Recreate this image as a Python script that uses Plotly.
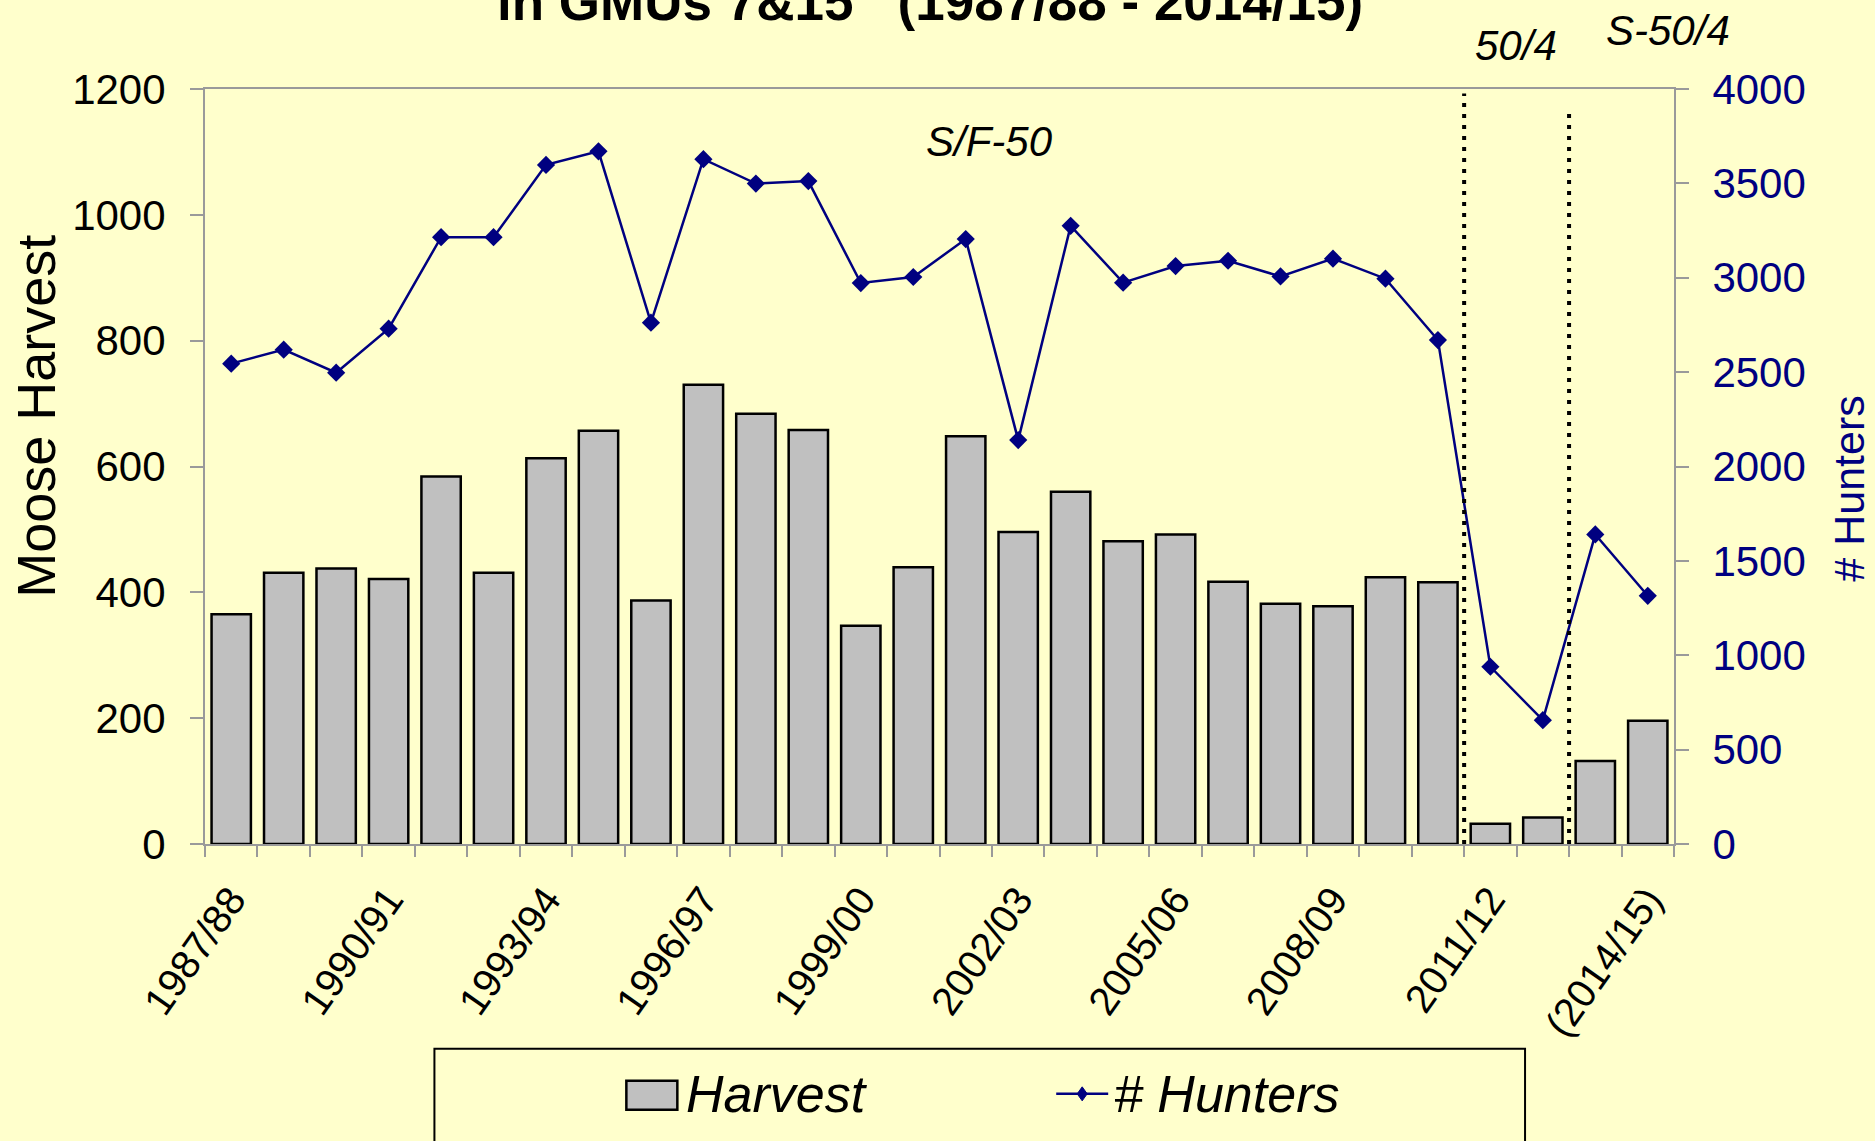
import plotly.graph_objects as go

# ---------------- data ----------------
seasons = ["1987/88", "1988/89", "1989/90", "1990/91", "1991/92", "1992/93", "1993/94",
           "1994/95", "1995/96", "1996/97", "1997/98", "1998/99", "1999/00", "2000/01",
           "2001/02", "2002/03", "2003/04", "2004/05", "2005/06", "2006/07", "2007/08",
           "2008/09", "2009/10", "2010/11", "2011/12", "2012/13", "2013/14", "2014/15"]
harvest = [365, 431, 438, 421, 584, 431, 613, 657, 387, 730, 684, 658, 347, 440,
           648, 496, 560, 481, 492, 417, 382, 378, 424, 416, 32, 42, 132, 196]
hunters = [2545, 2619, 2497, 2730, 3215, 3215, 3598, 3670, 2762, 3628, 3499, 3512, 2972, 3004,
           3205, 2140, 3275, 2974, 3062, 3090, 3007, 3101, 2995, 2670, 939, 656, 1640, 1315]
tick_text = ["1987/88", "", "", "1990/91", "", "", "1993/94", "", "", "1996/97", "", "",
             "1999/00", "", "", "2002/03", "", "", "2005/06", "", "", "2008/09", "", "",
             "2011/12", "", "", "(2014/15)"]
regime_breaks = [23.5, 25.5]          # boundaries where the regulation changed
left_ticks = [0, 200, 400, 600, 800, 1000, 1200]
right_ticks = [0, 500, 1000, 1500, 2000, 2500, 3000, 3500, 4000]

# ---------------- layout geometry (pixels) ----------------
W, H = 1875, 1141
L, R, T, B = 204.5, 1674.0, 88.5, 844.0
BG = "#FFFFCC"
NAVY = "#000080"
GREY_AX = "#9a9a9a"
FONT = "Liberation Sans, Arial, sans-serif"


def fx(px):
    return (px - L) / (R - L)


def fy(py):
    return (B - py) / (B - T)


fig = go.Figure()

fig.add_trace(go.Bar(
    x=seasons, y=harvest, name="Harvest",
    marker=dict(color="#C0C0C0", line=dict(color="black", width=2.5)),
    yaxis="y",
))
fig.add_trace(go.Scatter(
    x=seasons, y=hunters, name="# Hunters", mode="lines+markers",
    line=dict(color=NAVY, width=2.5),
    marker=dict(symbol="diamond", size=14, color=NAVY),
    yaxis="y2",
))

shapes = []
# regulation change dotted lines
for xb, ytop in zip(regime_breaks, [93, 107]):
    shapes.append(dict(type="line", xref="x", yref="paper", x0=xb, x1=xb,
                       y0=0, y1=fy(ytop),
                       line=dict(color="black", width=4, dash="4px,7px")))
# legend box
shapes.append(dict(type="rect", xref="paper", yref="paper",
                   x0=fx(434), x1=fx(1525), y0=fy(1049), y1=fy(1170),
                   line=dict(color="black", width=2), fillcolor=BG, layer="below"))
# legend: harvest swatch
shapes.append(dict(type="rect", xref="paper", yref="paper",
                   x0=fx(626), x1=fx(677), y0=fy(1081), y1=fy(1110),
                   line=dict(color="black", width=2.5), fillcolor="#C0C0C0"))
# legend: hunters line + diamond
shapes.append(dict(type="line", xref="paper", yref="paper",
                   x0=fx(1056), x1=fx(1108), y0=fy(1094), y1=fy(1094),
                   line=dict(color=NAVY, width=2.5)))
cx, cy = 1082, 1094
dpath = "M {} {} L {} {} L {} {} L {} {} Z".format(
    fx(cx), fy(cy - 7), fx(cx + 5), fy(cy), fx(cx), fy(cy + 7), fx(cx - 5), fy(cy))
shapes.append(dict(type="path", xref="paper", yref="paper", path=dpath,
                   fillcolor=NAVY, line=dict(color=NAVY, width=1)))

annotations = [
    dict(text="<b>in GMUs 7&amp;15&nbsp;&nbsp;&nbsp;(1987/88 - 2014/15)</b>",
         x=fx(929.5), y=fy(0.5), xref="paper", yref="paper", showarrow=False,
         xanchor="center", yanchor="middle", font=dict(size=53, color="black", family=FONT)),
    dict(text="<i>S/F-50</i>", x=fx(989.5), y=fy(141), xref="paper", yref="paper",
         showarrow=False, xanchor="center", yanchor="middle",
         font=dict(size=42, color="black", family=FONT)),
    dict(text="<i>50/4</i>", x=fx(1515.6), y=fy(45), xref="paper", yref="paper",
         showarrow=False, xanchor="center", yanchor="middle",
         font=dict(size=42, color="black", family=FONT)),
    dict(text="<i>S-50/4</i>", x=fx(1667.5), y=fy(30), xref="paper", yref="paper",
         showarrow=False, xanchor="center", yanchor="middle",
         font=dict(size=42, color="black", family=FONT)),
    dict(text="Moose Harvest", x=fx(36), y=fy(416), xref="paper", yref="paper",
         showarrow=False, textangle=-90, xanchor="center", yanchor="middle",
         font=dict(size=54, color="black", family=FONT)),
    dict(text="# Hunters", x=fx(1849), y=fy(488.5), xref="paper", yref="paper",
         showarrow=False, textangle=-90, xanchor="center", yanchor="middle",
         font=dict(size=43, color=NAVY, family=FONT)),
    dict(text="<i>Harvest</i>", x=fx(684), y=fy(1094), xref="paper", yref="paper",
         showarrow=False, xanchor="left", yanchor="middle",
         font=dict(size=52, color="black", family=FONT)),
    dict(text="<i># Hunters</i>", x=fx(1112), y=fy(1094), xref="paper", yref="paper",
         showarrow=False, xanchor="left", yanchor="middle",
         font=dict(size=52, color="black", family=FONT)),
]

fig.update_layout(
    width=W, height=H,
    margin=dict(l=L, r=W - R, t=T, b=H - B, pad=0),
    paper_bgcolor=BG, plot_bgcolor=BG,
    showlegend=False,
    bargap=0.25,
    font=dict(family=FONT, color="black"),
    xaxis=dict(
        type="category", range=[-0.5, 27.5], tickmode="array",
        tickvals=seasons, ticktext=tick_text, tickson="boundaries",
        ticks="outside", ticklen=11, tickwidth=1.5, tickcolor=GREY_AX,
        tickangle=-55, ticklabelstandoff=14,
        tickfont=dict(size=40, color="black", family=FONT),
        showline=True, linecolor=GREY_AX, linewidth=2, mirror=True,
        showgrid=False, zeroline=False, automargin=False,
    ),
    yaxis=dict(
        range=[0, 1200], tickmode="array", tickvals=left_ticks,
        ticks="outside", ticklen=13, tickwidth=1.5, tickcolor=GREY_AX,
        ticklabelstandoff=16,
        tickfont=dict(size=42, color="black", family=FONT),
        showline=True, linecolor=GREY_AX, linewidth=2,
        showgrid=False, zeroline=False, automargin=False,
    ),
    yaxis2=dict(
        range=[0, 4000], tickmode="array", tickvals=right_ticks,
        overlaying="y", side="right",
        ticks="outside", ticklen=13, tickwidth=1.5, tickcolor=GREY_AX,
        ticklabelstandoff=15,
        tickfont=dict(size=42, color=NAVY, family=FONT),
        showline=True, linecolor=GREY_AX, linewidth=2,
        showgrid=False, zeroline=False, automargin=False,
    ),
    shapes=shapes,
    annotations=annotations,
)

fig.write_html(
    "out.html",
    config={"displayModeBar": False},
    post_script="document.body.style.margin='0px';document.body.style.background='#FFFFCC';",
)
